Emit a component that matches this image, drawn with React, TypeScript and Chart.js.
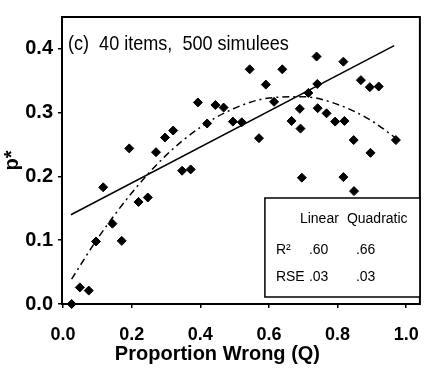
import React, { useEffect, useRef } from 'react';
import { Chart, registerables } from 'chart.js';

Chart.register(...registerables);

// Observed items: proportion wrong (Q) and p*
const pointsQ = [0.025, 0.049, 0.075, 0.096, 0.117, 0.144, 0.171, 0.193, 0.22, 0.247, 0.271, 0.297, 0.321, 0.347, 0.372, 0.393, 0.42, 0.444, 0.468, 0.495, 0.521, 0.544, 0.571, 0.591, 0.615, 0.639, 0.666, 0.69, 0.692, 0.696, 0.715, 0.739, 0.741, 0.742, 0.768, 0.793, 0.817, 0.817, 0.82, 0.847, 0.848, 0.868, 0.894, 0.92, 0.896, 0.97];
const pointsP = [0.0, 0.026, 0.021, 0.098, 0.183, 0.126, 0.099, 0.244, 0.16, 0.167, 0.238, 0.261, 0.272, 0.209, 0.211, 0.316, 0.283, 0.312, 0.308, 0.286, 0.285, 0.368, 0.26, 0.344, 0.317, 0.368, 0.287, 0.306, 0.275, 0.198, 0.331, 0.388, 0.345, 0.307, 0.299, 0.286, 0.38, 0.199, 0.287, 0.257, 0.177, 0.351, 0.34, 0.341, 0.237, 0.257];

// Linear fit line
const linearQ = [0.023, 0.965];
const linearP = [0.14, 0.405];

// Quadratic fit curve
const quadQ = [0.025, 0.1, 0.2, 0.3, 0.4, 0.5, 0.6, 0.7, 0.8, 0.9, 0.97];
const quadP = [0.039, 0.102, 0.174, 0.233, 0.277, 0.307, 0.323, 0.325, 0.313, 0.287, 0.26];

const xTicks = [0, 0.2, 0.4, 0.6, 0.8, 1.0];
const yTicks = [0, 0.1, 0.2, 0.3, 0.4];

const panelLabel = '(c)  40 items,  500 simulees';
const xTitle = 'Proportion Wrong (Q)';
const yTitle = 'p*';

const tableCols = ['Linear', 'Quadratic'];
const tableRows = ['R²', 'RSE'];
const tableLinear = ['.60', '.03'];
const tableQuad = ['.66', '.03'];

const overlay = {
  id: 'overlay',
  afterDraw(chart: any) {
    const { ctx, chartArea: a, scales } = chart;
    ctx.save();
    // frame
    ctx.strokeStyle = '#000';
    ctx.lineWidth = 2;
    ctx.strokeRect(a.left, a.top, a.right - a.left, a.bottom - a.top);

    ctx.fillStyle = '#000';
    ctx.textAlign = 'left';
    ctx.textBaseline = 'alphabetic';
    // panel label (slightly condensed, like the original typeface)
    ctx.save();
    ctx.translate(a.left + 6, a.top + 33);
    ctx.scale(0.86, 1);
    ctx.font = '21px "Liberation Sans", Arial, sans-serif';
    ctx.fillText(panelLabel, 0, 0);
    ctx.restore();

    // x title
    ctx.font = 'bold 20px "Liberation Sans", Arial, sans-serif';
    ctx.textAlign = 'center';
    ctx.fillText(xTitle, scales.x.getPixelForValue(0.45), a.bottom + 56);

    // table box
    const bl = a.right - 155;
    const bt = a.bottom - 106;
    const bb = a.bottom - 7;
    ctx.fillStyle = '#fff';
    ctx.fillRect(bl, bt, a.right - bl, bb - bt);
    ctx.strokeStyle = '#000';
    ctx.lineWidth = 1.5;
    ctx.strokeRect(bl, bt, a.right - bl, bb - bt);
    ctx.fillStyle = '#000';
    ctx.textAlign = 'left';
    ctx.font = '14px "Liberation Sans", Arial, sans-serif';
    ctx.fillText(tableCols[0], bl + 35, bt + 25);
    ctx.fillText(tableCols[1], bl + 82, bt + 25);
    const rowY = [bt + 56, bt + 83];
    tableRows.forEach((r, i) => {
      ctx.fillText(r, bl + 11, rowY[i]);
      ctx.fillText(tableLinear[i], bl + 44, rowY[i]);
      ctx.fillText(tableQuad[i], bl + 91, rowY[i]);
    });
    ctx.restore();
  },
};

export default function App() {
  const ref = useRef<HTMLCanvasElement>(null);
  useEffect(() => {
    if (!ref.current) return;
    const chart = new Chart(ref.current, {
      type: 'scatter',
      data: {
        datasets: [
          {
            label: 'items',
            data: pointsQ.map((q, i) => ({ x: q, y: pointsP[i] })),
            pointStyle: 'rectRot',
            pointRadius: 4.5,
            backgroundColor: '#000',
            borderColor: '#000',
            borderWidth: 1,
            clip: false,
          } as any,
          {
            label: 'linear',
            data: linearQ.map((q, i) => ({ x: q, y: linearP[i] })),
            showLine: true,
            borderColor: '#000',
            borderWidth: 1.5,
            pointRadius: 0,
          },
          {
            label: 'quadratic',
            data: quadQ.map((q, i) => ({ x: q, y: quadP[i] })),
            showLine: true,
            borderColor: '#000',
            borderWidth: 1.5,
            borderDash: [7, 4, 2, 4],
            cubicInterpolationMode: 'monotone',
            pointRadius: 0,
          } as any,
        ],
      },
      plugins: [overlay],
      options: {
        responsive: false,
        animation: false,
        events: [],
        layout: { padding: { top: 10, right: 8, left: 0, bottom: 0 } },
        plugins: { legend: { display: false }, tooltip: { enabled: false } },
        scales: {
          x: {
            type: 'linear',
            min: -0.003,
            max: 1.04,
            afterFit: (s: any) => { s.height = 72; },
            afterBuildTicks: (s: any) => { s.ticks = xTicks.map((v) => ({ value: v })); },
            border: { display: false },
            grid: { display: true, drawOnChartArea: false, drawTicks: true, tickLength: 4, color: '#000', lineWidth: 1.5 },
            ticks: {
              color: '#000',
              padding: 16,
              font: { family: '"Liberation Sans", Arial, sans-serif', size: 18, weight: 'bold' },
              callback: (v: any) => Number(v).toFixed(1),
            },
          },
          y: {
            type: 'linear',
            min: 0,
            max: 0.45,
            afterFit: (s: any) => { s.width = 62; },
            afterBuildTicks: (s: any) => { s.ticks = yTicks.map((v) => ({ value: v })); },
            border: { display: false },
            grid: { display: true, drawOnChartArea: false, drawTicks: true, tickLength: 4, color: '#000', lineWidth: 1.5 },
            title: {
              display: true,
              text: yTitle,
              color: '#000',
              padding: { top: 0, bottom: 0 },
              font: { family: '"Liberation Sans", Arial, sans-serif', size: 20, weight: 'bold' },
            },
            ticks: {
              color: '#000',
              padding: 5,
              font: { family: '"Liberation Sans", Arial, sans-serif', size: 20, weight: 'bold' },
              callback: (v: any) => Number(v).toFixed(1),
            },
          },
        },
      } as any,
    });
    return () => chart.destroy();
  }, []);
  return (
    <div style={{ position: 'absolute', left: 0, top: 0, width: 435, height: 376, background: '#fff' }}>
      <canvas ref={ref} width={435} height={376} style={{ display: 'block' }} />
    </div>
  );
}
